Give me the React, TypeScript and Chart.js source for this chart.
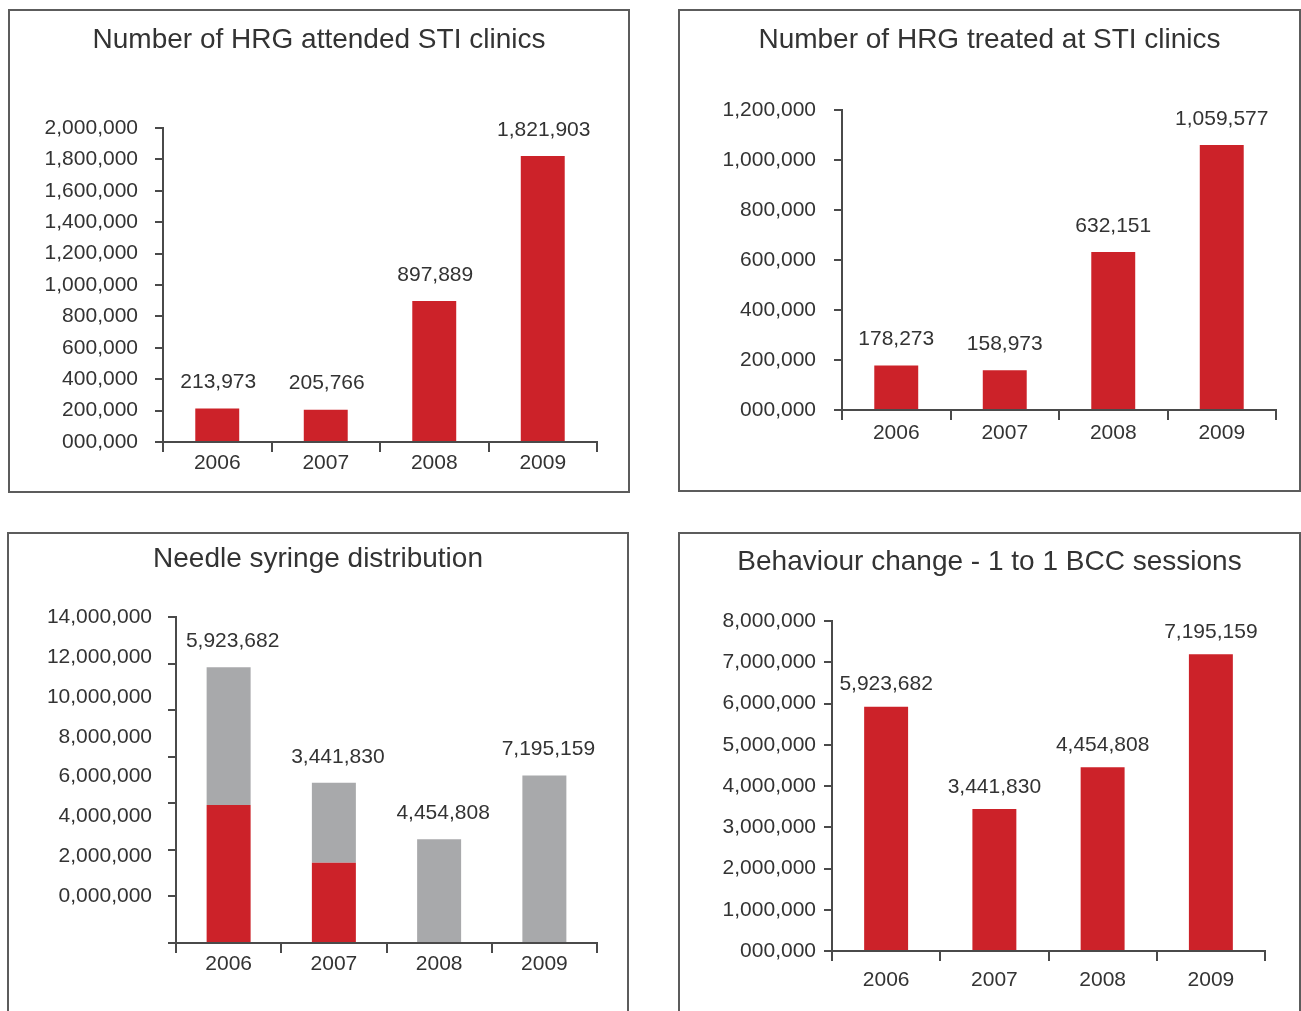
import React, { useEffect, useRef } from "react";
import { Chart, registerables } from "chart.js";

Chart.register(...registerables);

// ---------- data ----------
const YEARS = ["2006", "2007", "2008", "2009"];
const HRG_ATTENDED = [213973, 205766, 897889, 1821903];
const HRG_TREATED = [178273, 158973, 632151, 1059577];
const NEEDLE_RED = [5923682, 3441830, 0, 0];
const NEEDLE_GRAY = [5923682, 3441830, 4454808, 7195159];
const BCC_SESSIONS = [5923682, 3441830, 4454808, 7195159];
const NEEDLE_TICK_LABELS = [
  "14,000,000",
  "12,000,000",
  "10,000,000",
  "8,000,000",
  "6,000,000",
  "4,000,000",
  "2,000,000",
  "0,000,000",
];

// ---------- styles ----------
const RED = "#CC2229";
const GRAY = "#A8A9AB";
const TEXT = "#333333";
const AXIS = "#4a4a4a";
const BORDER = "#5c5c5c";
const FONT = "'Liberation Sans', Arial, sans-serif";
const TICK_SIZE = 21;
const TITLE_SIZE = 28;

type Panel = {
  key: string;
  left: number;
  top: number;
  width: number;
  height: number;
  title: string;
  titleY: number;
  area: { left: number; right: number; top: number; bottom: number };
  yMax: number;
  yStep: number;
  zeroLabel: string;
  datasets: { data: number[]; color: string }[];
  stacked: boolean;
  barPct: number;
  labelValues: number[];
  labelDs: number;
  labelOffset: number;
  labelDx: number;
  yPad: number;
  xPad: number;
  customYLabels?: string[];
  customYGap?: number;
  bottomBorder: boolean;
};

const PANELS: Panel[] = [
  {
    key: "p1",
    left: 8,
    top: 9,
    width: 622,
    height: 484,
    title: "Number of HRG attended STI clinics",
    titleY: 31,
    area: { left: 155, right: 589, top: 119, bottom: 433 },
    yMax: 2000000,
    yStep: 200000,
    zeroLabel: "000,000",
    datasets: [{ data: HRG_ATTENDED, color: RED }],
    stacked: false,
    barPct: 0.405,
    labelValues: HRG_ATTENDED,
    labelDs: 0,
    labelOffset: 26,
    labelDx: 1,
    yPad: 17,
    xPad: -1,
    bottomBorder: true,
  },
  {
    key: "p2",
    left: 678,
    top: 9,
    width: 623,
    height: 483,
    title: "Number of HRG treated at STI clinics",
    titleY: 31,
    area: { left: 164, right: 598, top: 101, bottom: 401 },
    yMax: 1200000,
    yStep: 200000,
    zeroLabel: "000,000",
    datasets: [{ data: HRG_TREATED, color: RED }],
    stacked: false,
    barPct: 0.405,
    labelValues: HRG_TREATED,
    labelDs: 0,
    labelOffset: 26,
    labelDx: 0,
    yPad: 18,
    xPad: 1,
    bottomBorder: true,
  },
  {
    key: "p3",
    left: 7,
    top: 532,
    width: 622,
    height: 479,
    title: "Needle syringe distribution",
    titleY: 27,
    area: { left: 169, right: 590, top: 85, bottom: 411 },
    yMax: 14000000,
    yStep: 2000000,
    zeroLabel: "0,000,000",
    datasets: [
      { data: NEEDLE_RED, color: RED },
      { data: NEEDLE_GRAY, color: GRAY },
    ],
    stacked: true,
    barPct: 0.418,
    labelValues: NEEDLE_GRAY,
    labelDs: 1,
    labelOffset: 26,
    labelDx: 4,
    yPad: 16,
    xPad: -1,
    customYLabels: NEEDLE_TICK_LABELS,
    customYGap: 24,
    bottomBorder: false,
  },
  {
    key: "p4",
    left: 678,
    top: 532,
    width: 623,
    height: 479,
    title: "Behaviour change - 1 to 1 BCC sessions",
    titleY: 30,
    area: { left: 154, right: 587, top: 89, bottom: 419 },
    yMax: 8000000,
    yStep: 1000000,
    zeroLabel: "000,000",
    datasets: [{ data: BCC_SESSIONS, color: RED }],
    stacked: false,
    barPct: 0.406,
    labelValues: BCC_SESSIONS,
    labelDs: 0,
    labelOffset: 22,
    labelDx: 0,
    yPad: 8,
    xPad: 7,
    bottomBorder: false,
  },
];

const fmt = (v: number) => Number(v).toLocaleString("en-US");

function makePlugin(p: Panel) {
  return {
    id: "panelDecor_" + p.key,
    beforeDraw(chart: any) {
      const ctx = chart.ctx;
      ctx.save();
      ctx.fillStyle = "#ffffff";
      ctx.fillRect(0, 0, chart.width, chart.height);
      ctx.strokeStyle = BORDER;
      ctx.lineWidth = 2;
      const h = p.bottomBorder ? chart.height - 2 : chart.height + 10;
      ctx.strokeRect(1, 1, chart.width - 2, h);
      // title, centred on the whole panel
      ctx.font = `${TITLE_SIZE}px ${FONT}`;
      ctx.fillStyle = TEXT;
      ctx.textAlign = "center";
      ctx.textBaseline = "middle";
      ctx.fillText(p.title, chart.width / 2, p.titleY);
      ctx.restore();
    },
    afterDraw(chart: any) {
      const ctx = chart.ctx;
      ctx.save();
      ctx.font = `${TICK_SIZE}px ${FONT}`;
      ctx.fillStyle = TEXT;
      ctx.textAlign = "center";
      ctx.textBaseline = "middle";
      const meta = chart.getDatasetMeta(p.labelDs);
      meta.data.forEach((el: any, i: number) => {
        ctx.fillText(fmt(p.labelValues[i]), el.x + p.labelDx, el.y - p.labelOffset);
      });
      if (p.customYLabels) {
        const y = chart.scales.y;
        const top = y.getPixelForValue(p.yMax);
        const low = y.getPixelForValue(p.yStep);
        const n = p.customYLabels.length;
        const step = (low - top) / (n - 1);
        ctx.textAlign = "right";
        p.customYLabels.forEach((lab, i) => {
          ctx.fillText(lab, chart.chartArea.left - (p.customYGap || 24), top + i * step);
        });
      }
      ctx.restore();
    },
  };
}

function PanelChart({ p }: { p: Panel }) {
  const ref = useRef<HTMLCanvasElement>(null);
  useEffect(() => {
    if (!ref.current) return;
    const padLeft = 5;
    const xH = 50;
    const chart = new Chart(ref.current, {
      type: "bar",
      data: {
        labels: YEARS,
        datasets: p.datasets.map((d) => ({
          data: d.data,
          backgroundColor: d.color,
          borderWidth: 0,
          barPercentage: p.barPct,
          categoryPercentage: 1,
        })),
      },
      options: {
        responsive: false,
        animation: false,
        events: [],
        layout: {
          padding: {
            left: padLeft,
            right: p.width - p.area.right,
            top: p.area.top,
            bottom: p.height - p.area.bottom - xH,
          },
        },
        plugins: {
          legend: { display: false },
          tooltip: { enabled: false },
          title: { display: false },
        },
        scales: {
          x: {
            stacked: p.stacked,
            offset: true,
            grid: {
              offset: true,
              drawOnChartArea: false,
              drawTicks: true,
              tickLength: 10,
              color: AXIS,
              lineWidth: 2,
            },
            border: { display: true, color: AXIS, width: 2 },
            ticks: {
              color: TEXT,
              font: { family: FONT, size: TICK_SIZE },
              padding: p.xPad,
              maxRotation: 0,
            },
            afterFit: (scale: any) => {
              scale.height = xH;
            },
          },
          y: {
            stacked: p.stacked,
            min: 0,
            max: p.yMax,
            grid: {
              drawOnChartArea: false,
              drawTicks: true,
              tickLength: 8,
              color: AXIS,
              lineWidth: 2,
            },
            border: { display: true, color: AXIS, width: 2 },
            ticks: {
              display: !p.customYLabels,
              stepSize: p.yStep,
              color: TEXT,
              font: { family: FONT, size: TICK_SIZE },
              padding: p.yPad,
              callback: (v: any) => (Number(v) === 0 ? p.zeroLabel : fmt(Number(v))),
            },
            afterFit: (scale: any) => {
              scale.width = p.area.left - padLeft;
            },
          },
        },
      },
      plugins: [makePlugin(p)],
    } as any);
    return () => chart.destroy();
  }, [p]);
  return (
    <canvas
      ref={ref}
      width={p.width}
      height={p.height}
      style={{
        position: "absolute",
        left: p.left,
        top: p.top,
        width: p.width,
        height: p.height,
        display: "block",
      }}
    />
  );
}

export default function App() {
  return (
    <div
      style={{
        position: "absolute",
        left: 0,
        top: 0,
        width: 1301,
        height: 1011,
        overflow: "hidden",
        background: "#ffffff",
      }}
    >
      {PANELS.map((p) => (
        <PanelChart key={p.key} p={p} />
      ))}
    </div>
  );
}
